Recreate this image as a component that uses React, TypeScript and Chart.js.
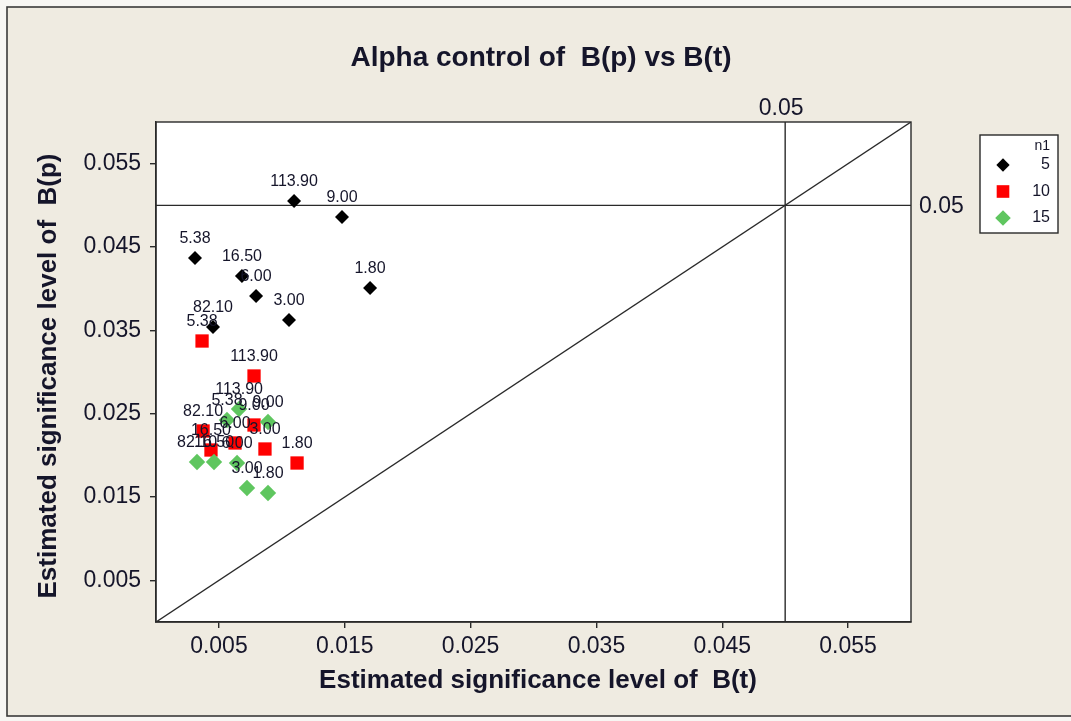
import React, { useEffect, useRef } from "react";
import { Chart, registerables } from "chart.js";

Chart.register(...registerables);

// Axis range and tick positions (same for both axes)
const AXIS_MIN = 0;
const AXIS_MAX = 0.06;
const tickValues = [0.005, 0.015, 0.025, 0.035, 0.045, 0.055];
const alphaLevel = 0.05;

const chartTitle = "Alpha control of  B(p) vs B(t)";
const xTitle = "Estimated significance level of  B(t)";
const yTitle = "Estimated significance level of  B(p)";
const legendTitle = "n1";
const groupNames = ["5", "10", "15"];

// n1 = 5
const labelsN5 = ["113.90", "9.00", "5.38", "16.50", "6.00", "1.80", "3.00", "82.10"];
const btN5 = [0.01097, 0.01478, 0.0031, 0.00683, 0.00795, 0.01701, 0.01057, 0.00453];
const bpN5 = [0.05052, 0.0486, 0.04368, 0.04152, 0.03912, 0.04008, 0.03624, 0.0354];

// n1 = 10
const labelsN10 = ["5.38", "113.90", "82.10", "16.50", "9.00", "6.00", "3.00", "1.80"];
const btN10 = [0.00366, 0.00779, 0.00374, 0.00437, 0.00779, 0.00628, 0.00866, 0.01121];
const bpN10 = [0.03372, 0.02952, 0.02292, 0.02064, 0.02364, 0.02148, 0.02076, 0.01908];

// n1 = 15
const labelsN15 = ["113.90", "5.38", "9.00", "82.10", "16.50", "6.00", "3.00", "1.80"];
const btN15 = [0.0066, 0.00564, 0.0089, 0.00326, 0.00461, 0.00644, 0.00723, 0.0089];
const bpN15 = [0.02556, 0.02424, 0.024, 0.0192, 0.0192, 0.01908, 0.01608, 0.01548];

// Marker styles per group
const groupColors = ["#000000", "#FF0000", "#5FC65F"];
const groupShapes = ["rectRot", "rect", "rectRot"];
const groupRadii = [7, 9.4, 8.2];

const TEXT = "#15152a";
const LINE = "#2a2a2a";
const FONT = '"Liberation Sans", Arial, sans-serif';

function toPoints(xs: number[], ys: number[]) {
  return xs.map((x, i) => ({ x, y: ys[i] }));
}

function drawMarker(ctx: CanvasRenderingContext2D, shape: string, x: number, y: number, r: number, color: string) {
  ctx.save();
  ctx.fillStyle = color;
  ctx.beginPath();
  if (shape === "rect") {
    const s = Math.SQRT1_2 * r;
    ctx.rect(x - s, y - s, 2 * s, 2 * s);
  } else {
    ctx.moveTo(x - r, y);
    ctx.lineTo(x, y - r);
    ctx.lineTo(x + r, y);
    ctx.lineTo(x, y + r);
    ctx.closePath();
  }
  ctx.fill();
  ctx.restore();
}

const decorPlugin = {
  id: "decor",
  beforeDraw(chart: any) {
    const { ctx, chartArea: a, width, height } = chart;
    ctx.save();
    ctx.fillStyle = "#F7F6F3";
    ctx.fillRect(0, 0, width, height);
    ctx.fillStyle = "#EFEBE1";
    ctx.fillRect(7, 7, width, 709);
    ctx.strokeStyle = "#3a3a3a";
    ctx.lineWidth = 1.6;
    ctx.strokeRect(7, 7, width + 20, 709);
    ctx.fillStyle = "#FFFFFF";
    ctx.fillRect(a.left, a.top, a.right - a.left, a.bottom - a.top);
    ctx.restore();
  },
  afterDatasetsDraw(chart: any) {
    const { ctx, chartArea: a } = chart;
    ctx.save();
    // point value labels
    ctx.font = `16px ${FONT}`;
    ctx.fillStyle = TEXT;
    ctx.textAlign = "center";
    ctx.textBaseline = "middle";
    chart.data.datasets.forEach((ds: any, di: number) => {
      if (!ds.pointLabels) return;
      const meta = chart.getDatasetMeta(di);
      meta.data.forEach((el: any, i: number) => {
        ctx.fillText(ds.pointLabels[i], el.x, el.y - 19);
      });
    });
    // plot frame
    ctx.strokeStyle = LINE;
    ctx.lineWidth = 1.4;
    ctx.strokeRect(a.left, a.top, a.right - a.left, a.bottom - a.top);
    ctx.restore();
  },
  afterDraw(chart: any) {
    const { ctx, chartArea: a, scales } = chart;
    ctx.save();
    ctx.fillStyle = TEXT;
    ctx.textBaseline = "middle";

    // title
    ctx.font = `bold 28px ${FONT}`;
    ctx.textAlign = "center";
    ctx.fillText(chartTitle, 541, 58);

    // axis titles
    ctx.font = `bold 26px ${FONT}`;
    ctx.fillText(xTitle, 538, 681);
    ctx.save();
    ctx.translate(49, 376);
    ctx.rotate(-Math.PI / 2);
    ctx.fillText(yTitle, 0, 0);
    ctx.restore();

    // reference line labels
    ctx.font = `23px ${FONT}`;
    const vx = scales.x.getPixelForValue(alphaLevel);
    const hy = scales.y.getPixelForValue(alphaLevel);
    ctx.textAlign = "center";
    ctx.fillText(alphaLevel.toFixed(2), vx - 4, a.top - 13);
    ctx.textAlign = "left";
    ctx.fillText(alphaLevel.toFixed(2), a.right + 8, hy + 1);

    // legend
    const lx = 980, ly = 135, lw = 78, lh = 98;
    ctx.fillStyle = "#FFFFFF";
    ctx.fillRect(lx, ly, lw, lh);
    ctx.strokeStyle = LINE;
    ctx.lineWidth = 1.4;
    ctx.strokeRect(lx, ly, lw, lh);
    ctx.fillStyle = TEXT;
    ctx.textAlign = "right";
    ctx.font = `14px ${FONT}`;
    ctx.fillText(legendTitle, lx + lw - 8, ly + 11);
    ctx.font = `16px ${FONT}`;
    groupNames.forEach((name, i) => {
      const y = ly + 30 + i * 26.5;
      drawMarker(ctx, groupShapes[i], 1003, y, groupRadii[i] * 0.95, groupColors[i]);
      ctx.fillStyle = TEXT;
      ctx.fillText(name, lx + lw - 8, y);
    });
    ctx.restore();
  },
};

function axisOptions(isX: boolean) {
  return {
    type: "linear" as const,
    min: AXIS_MIN,
    max: AXIS_MAX,
    afterBuildTicks: (s: any) => {
      s.ticks = tickValues.map((v) => ({ value: v }));
    },
    afterFit: (s: any) => {
      if (isX) s.height = 99;
      else s.width = 156;
    },
    grid: {
      drawOnChartArea: false,
      drawTicks: true,
      tickLength: 6,
      color: LINE,
      lineWidth: 1.4,
    },
    border: { display: true, color: LINE, width: 1.4 },
    ticks: {
      font: { family: FONT, size: 23 },
      color: TEXT,
      padding: isX ? 5 : 9,
      maxRotation: 0,
      autoSkip: false,
      callback: (v: any) => Number(v).toFixed(3),
    },
  };
}

export default function App() {
  const canvasRef = useRef<HTMLCanvasElement | null>(null);

  useEffect(() => {
    document.body.style.margin = "0";
    const canvas = canvasRef.current;
    if (!canvas) return;

    const refStyle = {
      showLine: true,
      pointRadius: 0,
      borderColor: LINE,
      borderWidth: 1.4,
      backgroundColor: LINE,
      order: 10,
    };

    const groups = [
      { labels: labelsN5, xs: btN5, ys: bpN5 },
      { labels: labelsN10, xs: btN10, ys: bpN10 },
      { labels: labelsN15, xs: btN15, ys: bpN15 },
    ];

    const chart = new Chart(canvas, {
      type: "scatter",
      data: {
        datasets: [
          // y = x reference
          { ...refStyle, label: "diag", data: [{ x: AXIS_MIN, y: AXIS_MIN }, { x: AXIS_MAX, y: AXIS_MAX }] },
          // alpha level lines
          { ...refStyle, label: "h", data: [{ x: AXIS_MIN, y: alphaLevel }, { x: AXIS_MAX, y: alphaLevel }] },
          { ...refStyle, label: "v", data: [{ x: alphaLevel, y: AXIS_MIN }, { x: alphaLevel, y: AXIS_MAX }] },
          ...groups.map((g, i) => ({
            label: groupNames[i],
            data: toPoints(g.xs, g.ys),
            pointLabels: g.labels,
            pointStyle: groupShapes[i],
            pointRadius: groupRadii[i],
            pointBorderWidth: 0,
            backgroundColor: groupColors[i],
            borderColor: groupColors[i],
            order: 3 - i,
          })),
        ] as any,
      },
      options: {
        responsive: false,
        animation: false,
        events: [],
        layout: { padding: { left: 0, top: 122, right: 160, bottom: 0 } },
        plugins: {
          legend: { display: false },
          tooltip: { enabled: false },
          title: { display: false },
        },
        scales: {
          x: axisOptions(true),
          y: axisOptions(false),
        } as any,
      },
      plugins: [decorPlugin],
    });

    return () => chart.destroy();
  }, []);

  return (
    <canvas
      ref={canvasRef}
      width={1071}
      height={721}
      style={{ display: "block", width: 1071, height: 721 }}
    />
  );
}
